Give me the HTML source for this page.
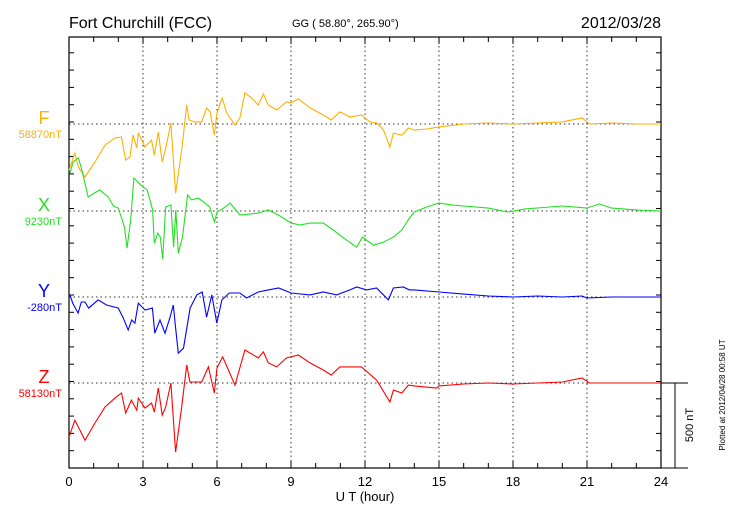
<!DOCTYPE html>
<html><head><meta charset="utf-8"><style>
body{margin:0;background:#fff;}
svg text{font-family:"Liberation Sans",sans-serif;}
</style></head><body>
<svg id="chart" width="730" height="520" xmlns="http://www.w3.org/2000/svg">
<rect width="730" height="520" fill="#fff"/>
<text x="69" y="28" font-size="16">Fort Churchill (FCC)</text>
<text x="292" y="27" font-size="11">GG ( 58.80°, 265.90°)</text>
<text x="661" y="28" font-size="16" text-anchor="end">2012/03/28</text>
<g id="grid"></g>
<g id="axes"></g>
<g id="series"></g>
<g id="labels"></g>
<text x="365" y="501" font-size="13" text-anchor="middle">U T (hour)</text>
<text transform="translate(693,425) rotate(-90)" font-size="11" text-anchor="middle">500 nT</text>
<text transform="translate(725,395) rotate(-90)" font-size="8" text-anchor="middle">Plotted at 2012/04/28 00:58 UT</text>
</svg>
<script>
const xTicks=[0,3,6,9,12,15,18,21,24];
const fT=[0,.24,.38,.65,1.05,1.46,1.86,2.13,2.3,2.47,2.6,2.75,2.81,3.08,3.35,3.46,3.62,3.78,3.92,4.13,4.32,4.57,4.77,4.87,5.1,5.38,5.58,5.72,5.89,6.0,6.21,6.39,6.73,6.93,7.13,7.4,7.67,7.88,8.08,8.42,8.82,9.0,9.3,9.77,10.31,10.63,10.98,11.39,11.86,12.2,12.47,12.75,13.01,13.15,13.49,13.76,14,14.5,15,16,17,18,19,20,20.8,21.1,22,23,24];
const fV=[-267,-168,-249,-307,-220,-122,-81,-75,-209,-191,-64,-139,-52,-133,-93,-180,-46,-220,-139,6,-400,-151,110,23,12,12,93,70,-64,64,151,64,-6,35,180,151,110,174,110,81,128,122,145,93,52,23,70,41,52,12,6,-35,-133,-52,-64,-23,-35,-29,-17,0,6,0,6,12,35,0,6,0,0];
const xT=[.04,.17,.38,.5,.78,1.1,1.25,1.59,1.8,2.0,2.25,2.35,2.5,2.63,2.9,3.17,3.39,3.46,3.6,3.7,3.8,3.92,4.13,4.24,4.33,4.43,4.6,4.81,4.97,5.24,5.51,5.7,5.9,6.0,6.27,6.53,6.93,7.67,8.08,8.49,9.0,9.37,9.77,10.31,10.71,11.25,11.66,11.9,12.34,12.75,13.15,13.49,13.8,14,14.5,15,15.5,16,17,17.8,18.5,19.5,20,21,21.5,22,23,24];
const xV=[220,284,307,249,81,110,122,81,29,17,-93,-215,-52,191,151,122,6,-186,-128,-151,-278,23,35,-209,6,-244,-151,93,64,75,46,23,-64,-6,17,46,-23,-12,6,-23,-70,-81,-70,-70,-110,-168,-209,-151,-197,-180,-151,-110,-41,-6,23,46,35,29,17,-6,12,23,29,17,41,17,6,0];
const yT=[.04,.15,.37,.5,.65,.8,1.18,1.52,2.0,2.2,2.4,2.54,2.67,2.81,3.08,3.38,3.48,3.69,3.89,4.1,4.23,4.3,4.43,4.64,4.91,5.18,5.4,5.58,5.79,5.99,6.2,6.5,6.93,7.2,7.67,8.08,8.5,9.0,9.77,10.31,10.85,11.39,11.66,12.07,12.47,12.95,13.15,13.55,13.8,14,15,16,17,18,19,20,20.8,21,22,24];
const yV=[12,-35,-93,-29,-29,-64,-17,-46,-64,-122,-191,-133,-151,-35,-75,-64,-209,-133,-209,-116,-46,-151,-325,-296,-64,12,29,-116,12,-151,-17,23,23,-6,29,41,52,23,12,29,12,41,58,41,52,-17,52,58,41,41,29,17,6,0,6,0,6,-6,0,0];
const zT=[0,.24,.38,.65,1.05,1.46,1.86,2.13,2.3,2.53,2.75,2.81,3.08,3.35,3.46,3.62,3.78,3.92,4.13,4.32,4.57,4.77,4.9,5.38,5.65,5.89,6.0,6.23,6.73,7.13,7.67,7.88,8.08,8.42,8.82,9.3,9.77,10.31,10.63,10.98,11.86,12.47,13.01,13.15,13.49,13.76,14,14.9,15,16,17,18,19,20,20.8,21.1,22,24];
const zV=[-313,-215,-255,-331,-232,-139,-87,-58,-174,-99,-157,-87,-145,-116,-168,-29,-186,-139,0,-400,-139,104,6,6,93,-58,87,151,-12,191,145,180,116,93,145,162,116,75,46,93,93,17,-110,-41,-58,-12,-17,-29,-17,-6,0,-6,0,6,29,0,0,0];
const seriesNames=['F','X','Y','Z'];
const seriesBase=['58870nT','9230nT','-280nT','58130nT'];

const L=69,R=661,T=37,B=468;
const baseY=[124,211,297,383];
const colors=['#ffb000','#22e022','#0000ff','#ff0000'];
const NS='http://www.w3.org/2000/svg';
function sx(t){return L+(R-L)*t/24;}
function sy(i,v){return baseY[i]-v*17.3/100;}
function mk(tag,attrs,parent){const e=document.createElementNS(NS,tag);for(const k in attrs)e.setAttribute(k,attrs[k]);document.getElementById(parent).appendChild(e);return e;}

for(const t of xTicks){if(t===0||t===24)continue;
 const g=mk('line',{x1:sx(t),x2:sx(t),y1:T,y2:B,stroke:'#333','stroke-width':1,'stroke-dasharray':'1.5,3'},'grid');
 
 }
for(let i=0;i<4;i++){
 const g=mk('line',{x1:L,x2:R,y1:baseY[i],y2:baseY[i],stroke:'#333','stroke-width':1,'stroke-dasharray':'1.5,3'},'grid');
 
 }
const fr=mk('rect',{x:L,y:T,width:R-L,height:B-T,fill:'none',stroke:'#000','stroke-width':1.2},'axes');


for(let h=0;h<=24;h++){
 const len=h%3===0?7:5;
 const a=mk('line',{x1:sx(h),x2:sx(h),y1:B,y2:B-len,stroke:'#000'},'axes');
 
 
 const b=mk('line',{x1:sx(h),x2:sx(h),y1:T,y2:T+len,stroke:'#000'},'axes');
 
 }
for(let y=B;y>=T;y-=17.3){
 const a=mk('line',{x1:L,x2:L+5,y1:y,y2:y,stroke:'#000'},'axes');
 
 
 const b=mk('line',{x1:R,x2:R-5,y1:y,y2:y,stroke:'#000'},'axes');
 
 }
for(const t of xTicks){
 const tx=mk('text',{x:sx(t),y:486,'font-size':13,'text-anchor':'middle'},'axes');
 tx.textContent=t;
 
 }
const s1=mk('line',{x1:R,x2:688,y1:383,y2:383,stroke:'#000'},'axes');


const s2=mk('line',{x1:675,x2:675,y1:383,y2:B,stroke:'#000'},'axes');


const s3=mk('line',{x1:R,x2:688,y1:B,y2:B,stroke:'#000'},'axes');


const allT=[fT,xT,yT,zT],allV=[fV,xV,yV,zV];
for(let i=0;i<4;i++){
 const pts=allT[i].map((t,j)=>sx(t).toFixed(1)+','+sy(i,allV[i][j]).toFixed(1)).join(' ');
 const p=mk('polyline',{points:pts,fill:'none',stroke:colors[i],'stroke-width':1.1},'series');
 
 
 const n=mk('text',{x:44,y:baseY[i],'font-size':18,fill:colors[i],'text-anchor':'middle'},'labels');
 n.textContent=seriesNames[i];
 
 
 const bl=mk('text',{x:62,y:baseY[i]+14,'font-size':11,fill:colors[i],'text-anchor':'end'},'labels');
 bl.textContent=seriesBase[i];
 
 }
</script>
</body></html>
